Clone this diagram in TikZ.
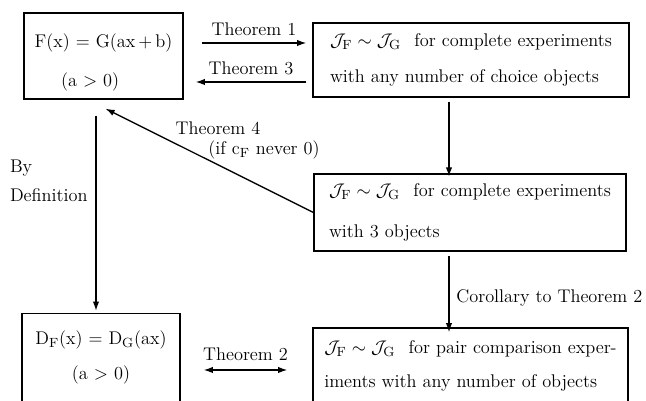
\documentclass[tikz,border=0pt]{standalone}
\usepackage{amsmath,amssymb}
\usepackage{tikz}
\usetikzlibrary{arrows.meta,positioning,calc}

\newcommand{\JFG}{$\mathcal{J}_{\mathrm F}\sim\mathcal{J}_{\mathrm G}$}

\begin{document}
\begin{tikzpicture}[
    x=0.6pt,y=-0.6pt,
    font=\fontsize{11}{13.5}\selectfont,
    box/.style={rectangle,draw,line width=0.8pt,inner xsep=6pt},
    arr/.style={-{Latex[length=5.5pt,width=3.8pt]},line width=0.8pt},
    dbl/.style={{Latex[length=5.5pt,width=3.8pt]}-{Latex[length=5.5pt,width=3.8pt]},line width=0.8pt},
    lbl/.style={inner sep=1pt}
]
\useasboundingbox (0,0) rectangle (646,401);
\clip (0,0) rectangle (646,401);

% left column
\node[box,minimum width=95.4pt,minimum height=51.6pt,align=center] (feq) at (103.5,56)
    {\rule{0pt}{16pt}F(x) = G(ax\,+\,b)\\[10pt](a $>$ 0)\hspace*{16pt}};
\node[box,minimum width=94.8pt,minimum height=52.8pt,align=center] (deq) at (101,357.5)
    {D$_{\mathrm F}$(x) = D$_{\mathrm G}$(ax)\\[7pt](a $>$ 0)};

% right column
\node[box,minimum width=189.6pt,minimum height=44.4pt,align=left] (anyn) at (471,60)
    {\JFG\hspace{8pt}for complete experiments\\[8pt]with any number of choice objects};
\node[box,minimum width=187.2pt,minimum height=46.2pt,align=left] (three) at (470,212.5)
    {\JFG\hspace{8pt}for complete experiments\\[11pt]with 3 objects};
\node[box,minimum width=189pt,minimum height=45.6pt,align=left] (pair) at (470.5,366)
    {\JFG\hspace{8pt}for pair comparison exper-\\[7pt]iments with any number of objects};

% connectors
\draw[arr] ([shift={(18,-13)}]feq.east) -- node[lbl,above=3pt] {Theorem 1} ([shift={(-6,-17)}]anyn.west);
\draw[arr] ([shift={(-6,22)}]anyn.west) -- node[lbl,above=3pt] {Theorem 3} ([shift={(12,26)}]feq.east);
\draw[arr] (three.west) -- ([shift={(2,9)}]feq.south);
\node[lbl] (thm4) at (218,128) {Theorem 4};
\node[lbl] (thm4c) at (264,150) {(if c$_{\mathrm F}$ never 0)};

\draw[arr] ([shift={(-7.5,16)}]feq.south) -- ([shift={(-5,-2)}]deq.north);
\node[lbl,align=left,anchor=west] (bydef) at (8,181) {By\\[4pt]Definition};

\draw[arr] ([shift={(-22,4)}]anyn.south) coordinate (ab) -- ([yshift=-2]ab |- three.north);
\draw[arr] ([shift={(-21,4)}]three.south) coordinate (tp) -- node[lbl,right=3pt,pos=0.55] {Corollary to Theorem 2} ([yshift=-3]tp |- pair.north);

\draw[dbl] ([shift={(23,12.5)}]deq.east) -- node[lbl,above=4pt] {Theorem 2} ([shift={(-25,4)}]pair.west);
\end{tikzpicture}
\end{document}
